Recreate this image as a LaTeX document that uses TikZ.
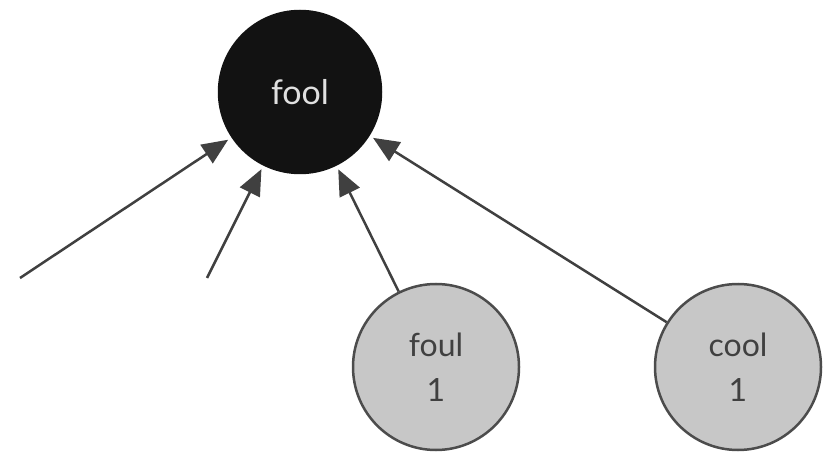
\documentclass[tikz,border=0pt]{standalone}
\usepackage{fontspec}
\setmainfont{Lato}
\usetikzlibrary{arrows.meta}
\tikzstyle{word} = [circle, minimum size=166pt, inner sep=0pt, align=center, draw=black!70, line width=2.5pt, fill=black!22, text=black!75, font=\fontsize{32}{45}\selectfont]
\tikzstyle{target} = [word, minimum size=162pt, draw=black!93, fill=black!93, text=white!88!black, font=\fontsize{34}{40}\selectfont]
\tikzstyle{arrow} = [line width=2.5pt, draw=black!75, -{Triangle[length=26pt, width=22pt]}, shorten >=4pt]
\begin{document}
\begin{tikzpicture}[x=1pt, y=-1pt]
\useasboundingbox (0,0) rectangle (824,454);

\node at (300, 92) (fool) [target] {fool};
\node at (436, 367) (foul) [word] {foul\\1};
\node at (738, 367) (cool) [word] {cool\\1};

% the two left edges are cut off
\coordinate (cutA) at (20, 278);
\coordinate (cutB) at (207, 278);

\draw [arrow] (cutA) -- (fool);
\draw [arrow] (cutB) -- (fool);
\draw [arrow] (foul) -- (fool);
\draw [arrow] (cool) -- (fool);

\end{tikzpicture}
\end{document}
